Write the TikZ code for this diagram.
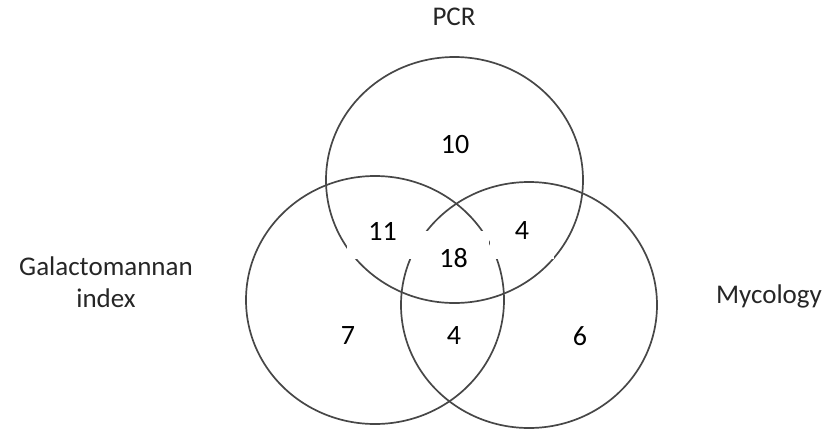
\documentclass[tikz,border=0pt]{standalone}
\usepackage{fontspec}
\setmainfont{Carlito}
\begin{document}
\begin{tikzpicture}[x=1pt,y=-1pt,
  ring/.style={draw=black!72,line width=1.7pt},
  lab/.style={text=black!85,font=\fontsize{27}{32}\selectfont,align=center,inner sep=0pt},
  num/.style={font=\fontsize{28}{33}\selectfont,inner sep=0pt},
  mask/.style={num,fill=white,minimum width=71pt,minimum height=55pt}]
\useasboundingbox (0,0) rectangle (839,432);
% sets
\draw[ring] (454.5,180) ellipse [x radius=128.5, y radius=123];
\draw[ring] (375,300) ellipse [x radius=129, y radius=124];
\draw[ring] (529,305) ellipse [x radius=128, y radius=123];
% set labels
\node[lab] (pcr) at (454,17) {PCR};
\node[lab] (gal) at (106,282) {Galactomannan\\index};
\node[lab] (myc) at (769,296) {Mycology};
% counts
\node[num] (n10) at (455,145) {10};
\node[mask] (n11) at (382.5,231) {11};
\node[mask,minimum width=64pt] (n4a) at (522,231) {4};
\node[mask] (n18) at (453.5,258) {18};
\node[num] (n7) at (348,336) {7};
\node[num] (n4b) at (454,336) {4};
\node[num] (n6) at (580,336) {6};
\end{tikzpicture}
\end{document}
